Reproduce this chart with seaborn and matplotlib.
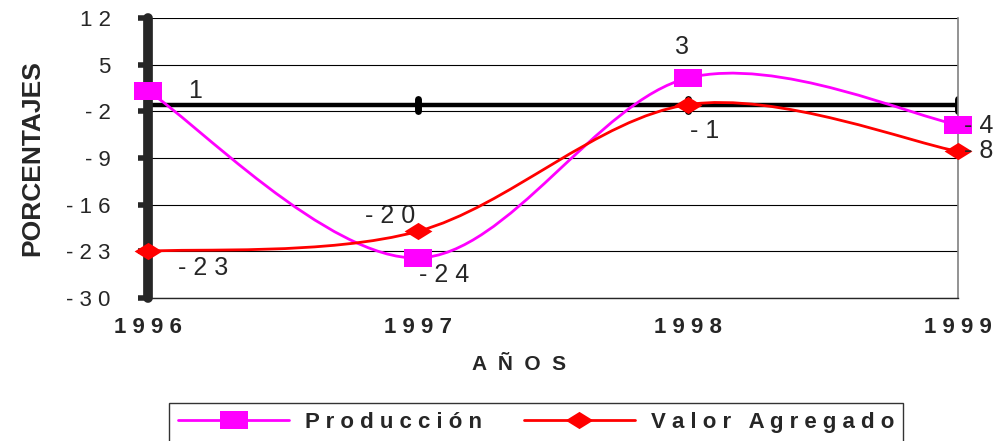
import numpy as np
import pandas as pd
import seaborn as sns
import matplotlib.pyplot as plt
from matplotlib.path import Path
from matplotlib.patches import PathPatch
from matplotlib.lines import Line2D

years = ['1996', '1997', '1998', '1999']
produccion = [1, -24, 3, -4]
valor_agregado = [-23, -20, -1, -8]
y_ticks = [12, 5, -2, -9, -16, -23, -30]
axis_cross = -1

sns.set_style('white')
plt.rcParams['font.family'] = ['Liberation Sans', 'DejaVu Sans']


def spaced(v):
    return ' '.join(str(v))


def smooth_path(xs, ys):
    # Excel-style smoothed line: cubic Bezier through the points
    pts = np.column_stack([xs, ys]).astype(float)
    n = len(pts)
    verts = [pts[0]]
    codes = [Path.MOVETO]
    for i in range(n - 1):
        p0 = pts[max(i - 1, 0)]
        p1 = pts[i]
        p2 = pts[i + 1]
        p3 = pts[min(i + 2, n - 1)]
        verts += [p1 + (p2 - p0) / 6, p2 - (p3 - p1) / 6, p2]
        codes += [Path.CURVE4] * 3
    return Path(verts, codes)


sq = [(-1, -0.62), (1, -0.62), (1, 0.62), (-1, 0.62), (-1, -0.62)]
dia = [(-1, 0), (0, 0.62), (1, 0), (0, -0.62), (-1, 0)]

fig = plt.figure(figsize=(10, 4.41), dpi=100)
ax = fig.add_axes([0.148, 0.3243, 0.81, 0.6349])

pos = np.arange(len(years))
for vals, col in [(produccion, '#FF00FF'), (valor_agregado, '#FF0000')]:
    ax.add_patch(PathPatch(smooth_path(pos, vals), fill=False, edgecolor=col, lw=2, zorder=3))

df = pd.DataFrame({'year': years, 'p': produccion, 'v': valor_agregado})
sns.lineplot(data=df, x='year', y='p', ax=ax, linestyle='none', marker=sq,
             markersize=20, color='#FF00FF', markeredgewidth=0, zorder=5, clip_on=False)
sns.lineplot(data=df, x='year', y='v', ax=ax, linestyle='none', marker=dia,
             markersize=20, color='#FF0000', markeredgewidth=0, zorder=5, clip_on=False)

ax.set_xlim(0, 3)
ax.set_ylim(-30, 12)
ax.set_yticks(y_ticks)
ax.set_yticklabels([spaced(t) for t in y_ticks], fontsize=16)
ax.set_xticks(pos)
ax.set_xticklabels([spaced(y) for y in years], fontsize=16, fontweight='bold')
ax.grid(axis='y', color='black', lw=0.8)
ax.set_axisbelow(True)

ax.spines['left'].set_linewidth(7)
ax.spines['left'].set_capstyle('round')
ax.spines['right'].set_color('#808080')
ax.spines['right'].set_linewidth(1.2)
ax.spines['top'].set_visible(False)
ax.spines['bottom'].set_linewidth(1)
ax.tick_params(axis='y', direction='out', length=7, width=4, pad=20, left=True)
ax.tick_params(axis='x', length=0, pad=14)

# category axis crossing line
ax.axhline(axis_cross, color='black', lw=3.2, zorder=2)
ax.vlines(pos[1:], axis_cross - 0.9, axis_cross + 0.9, color='black', lw=5,
          capstyle='round', zorder=2)

ax.set_xlabel('A  Ñ  O  S', fontsize=15, fontweight='bold', labelpad=12, x=0.458)
ax.set_ylabel('PORCENTAJES', fontsize=19, fontweight='bold', labelpad=16)

offs_p = [(34, 0), (19, -12), (-4, 22), (4, -1)]
offs_v = [(40, -12), (-20, 11), (12, -19), (4, 0)]
for i in range(len(years)):
    ha = 'left' if i == len(years) - 1 else 'center'
    ax.annotate(spaced(produccion[i]), (pos[i], produccion[i]), xytext=offs_p[i],
                textcoords='offset points', ha=ha, va='center', fontsize=18,
                zorder=10, annotation_clip=False)
    ax.annotate(spaced(valor_agregado[i]), (pos[i], valor_agregado[i]), xytext=offs_v[i],
                textcoords='offset points', ha=ha, va='center', fontsize=18,
                zorder=10, annotation_clip=False)

handles = [Line2D([], [], color='#FF00FF', lw=2, marker=sq, markersize=20, markeredgewidth=0),
           Line2D([], [], color='#FF0000', lw=2, marker=dia, markersize=20, markeredgewidth=0)]
leg = fig.legend(handles, ['P r o d u c c i ó n', 'V a l o r   A g r e g a d o'],
                 loc='upper center', bbox_to_anchor=(0.536, 0.086), ncol=2,
                 borderaxespad=0, frameon=True, fancybox=False, edgecolor='black',
                 handlelength=5.0, columnspacing=1.9,
                 prop={'size': 16, 'weight': 'bold'},
                 borderpad=0.4, handletextpad=0.7)
leg.get_frame().set_linewidth(1)

fig.savefig('out.png', dpi=100)
